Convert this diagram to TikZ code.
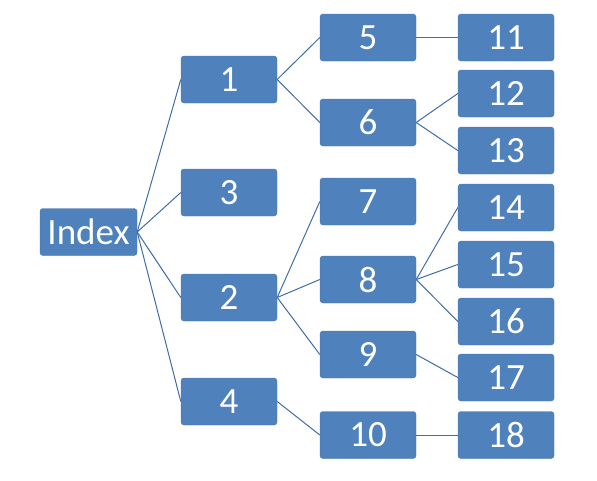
\documentclass[tikz,border=0pt]{standalone}
\usepackage{fontspec}
\setmainfont{Carlito}
\definecolor{boxblue}{HTML}{4F81BD}
\definecolor{edgeblue}{HTML}{3F6DA6}
\begin{document}
\begin{tikzpicture}[x=1pt,y=-1pt,
  bx/.style={fill=boxblue,draw=boxblue!90!black,line width=0.4pt,rounded corners=3pt,
    minimum width=96pt,minimum height=47pt,inner sep=0pt,text=white,
    font=\fontsize{37}{40}\selectfont},
  ln/.style={draw=edgeblue,line width=1pt}]
\useasboundingbox (0,0) rectangle (597,480);
\node[bx,minimum width=97pt] (idx) at (88.5,232) {Index};
\node[bx] (n1) at (229,79.5) {1};
\node[bx] (n3) at (229,192.5) {3};
\node[bx] (n2) at (229,297.5) {2};
\node[bx] (n4) at (229,401.5) {4};
\node[bx] (n5) at (368,37.5) {5};
\node[bx] (n6) at (368,122.5) {6};
\node[bx] (n7) at (368,201.5) {7};
\node[bx] (n8) at (368,279.5) {8};
\node[bx] (n9) at (368,354.5) {9};
\node[bx] (n10) at (368,435) {10};
\node[bx] (n11) at (506,37.5) {11};
\node[bx] (n12) at (506,93.5) {12};
\node[bx] (n13) at (506,150.5) {13};
\node[bx] (n14) at (506,207.5) {14};
\node[bx] (n15) at (506,264.5) {15};
\node[bx] (n16) at (506,321.5) {16};
\node[bx] (n17) at (506,377.5) {17};
\node[bx] (n18) at (506,435) {18};
\foreach \c in {n1,n3,n2,n4} \draw[ln] (idx.east) -- (\c.west);
\foreach \c in {n5,n6} \draw[ln] (n1.east) -- (\c.west);
\foreach \c in {n7,n8,n9} \draw[ln] (n2.east) -- (\c.west);
\draw[ln] (n4.east) -- (n10.west);
\draw[ln] (n5.east) -- (n11.west);
\foreach \c in {n12,n13} \draw[ln] (n6.east) -- (\c.west);
\foreach \c in {n14,n15,n16} \draw[ln] (n8.east) -- (\c.west);
\draw[ln] (n9.east) -- (n17.west);
\draw[ln] (n10.east) -- (n18.west);
\end{tikzpicture}
\end{document}
